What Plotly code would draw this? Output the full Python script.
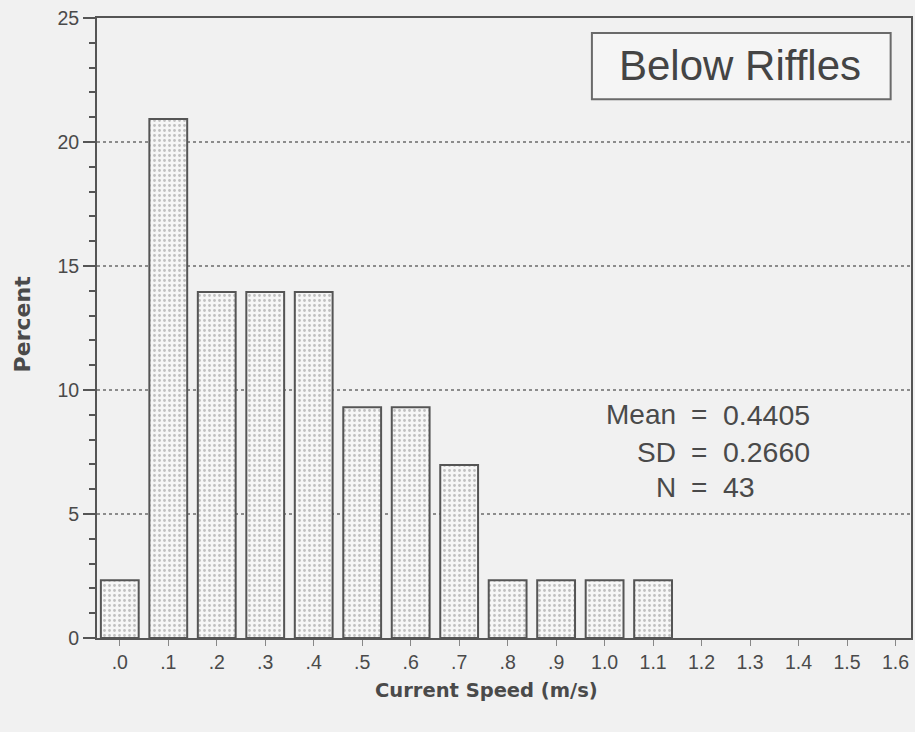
import plotly.graph_objects as go

# ---- data ----
speeds = [0.0, 0.1, 0.2, 0.3, 0.4, 0.5, 0.6, 0.7, 0.8, 0.9, 1.0, 1.1]
percent = [2.33, 20.93, 13.95, 13.95, 13.95, 9.30, 9.30, 6.98, 2.33, 2.33, 2.33, 2.33]
tick_vals = [0.0, 0.1, 0.2, 0.3, 0.4, 0.5, 0.6, 0.7, 0.8, 0.9, 1.0, 1.1, 1.2, 1.3, 1.4, 1.5, 1.6]
tick_text = [".0", ".1", ".2", ".3", ".4", ".5", ".6", ".7", ".8", ".9",
             "1.0", "1.1", "1.2", "1.3", "1.4", "1.5", "1.6"]
y_ticks = [0, 5, 10, 15, 20, 25]
x_title = "Current Speed (m/s)"
y_title = "Percent"
panel_label = "Below Riffles"
stat_names = ["Mean", "SD", "N"]
stat_values = ["0.4405", "0.2660", "43"]

BG = "#f1f1f1"
LINE = "#555555"
TXT = "#4a4a4a"
FONT = "Liberation Sans, Arial, sans-serif"
BOLDFONT = "DejaVu Sans, sans-serif"

fig = go.Figure()
fig.add_trace(go.Bar(
    x=speeds, y=percent, width=0.078,
    marker=dict(
        color=BG,
        line=dict(color=LINE, width=2),
        pattern=dict(shape=".", fgcolor="#8a8a8a", bgcolor="#f6f6f6", size=5, solidity=0.25),
    ),
    showlegend=False,
))

fig.update_layout(
    width=915, height=732,
    paper_bgcolor=BG, plot_bgcolor=BG,
    margin=dict(l=97, r=2, t=18, b=94),
    font=dict(family=FONT, color=TXT, size=19),
    xaxis=dict(
        range=[-0.047, 1.632],
        tickvals=tick_vals, ticktext=tick_text,
        ticks="outside", ticklen=6, tickcolor="#888", tickwidth=1,
        showline=True, linecolor=LINE, linewidth=2, mirror=True,
        showgrid=False, zeroline=False,
        tickfont=dict(size=19.5, color=TXT),
    ),
    yaxis=dict(
        range=[0, 25],
        tickvals=y_ticks,
        ticks="outside", ticklen=12, tickcolor=LINE, tickwidth=1.5,
        minor=dict(dtick=1, ticks="outside", ticklen=6, tickcolor=LINE, tickwidth=1.5, showgrid=False),
        showline=True, linecolor=LINE, linewidth=2, mirror=True,
        showgrid=True, gridcolor="#8c8c8c", gridwidth=1.5, griddash="dot",
        zeroline=False,
        tickfont=dict(size=19.5, color=TXT),
    ),
)

# Axis titles
fig.add_annotation(xref="paper", yref="paper", x=0.479, y=-0.085,
                   text="<b>" + x_title + "</b>", showarrow=False,
                   xanchor="center", yanchor="middle",
                   font=dict(family=BOLDFONT, size=19.5, color=TXT))
fig.add_annotation(xref="paper", yref="paper", x=-0.092, y=0.506,
                   text="<b>" + y_title + "</b>", showarrow=False, textangle=-90,
                   xanchor="center", yanchor="middle",
                   font=dict(family=BOLDFONT, size=22, color=TXT))

# Panel label box
fig.add_shape(type="rect", xref="paper", yref="paper",
              x0=0.608, x1=0.975, y0=0.869, y1=0.976,
              line=dict(color="#6a6a6a", width=2), fillcolor="#f5f5f5")
fig.add_annotation(xref="paper", yref="paper", x=0.790, y=0.9226,
                   text=panel_label, showarrow=False,
                   font=dict(size=42, color="#444"), xanchor="center", yanchor="middle")

# Stats
stat_y = [0.36, 0.30, 0.2435]
for name, val, yy in zip(stat_names, stat_values, stat_y):
    fig.add_annotation(xref="paper", yref="paper", x=0.714, y=yy, text=name,
                       showarrow=False, xanchor="right", yanchor="middle",
                       font=dict(size=28, color=TXT))
    fig.add_annotation(xref="paper", yref="paper", x=0.740, y=yy, text="=",
                       showarrow=False, xanchor="center", yanchor="middle",
                       font=dict(size=28, color=TXT))
    fig.add_annotation(xref="paper", yref="paper", x=0.766, y=yy, text=val,
                       showarrow=False, xanchor="left", yanchor="middle",
                       font=dict(size=28.5, color=TXT))

fig.write_html("out.html")
